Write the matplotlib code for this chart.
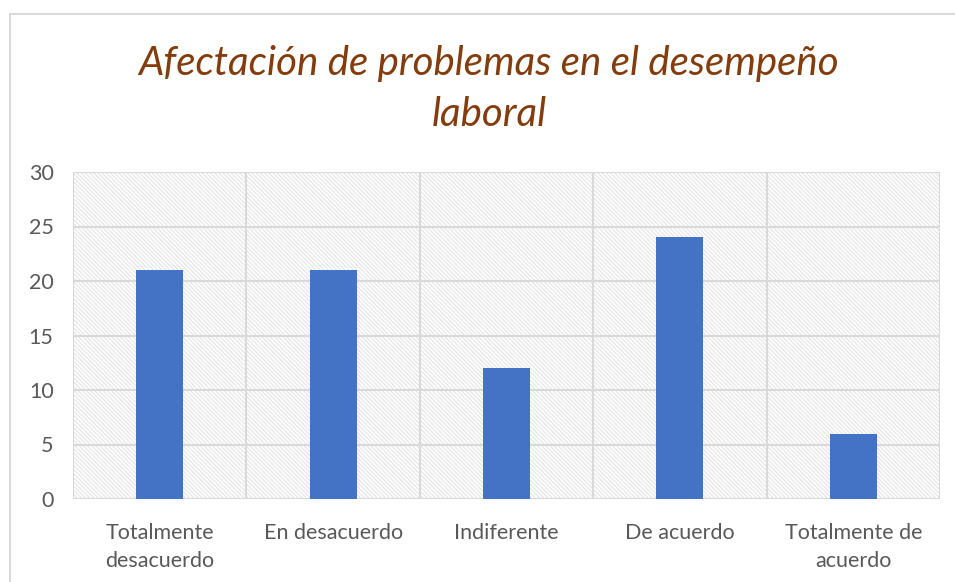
import matplotlib
matplotlib.use("Agg")
import matplotlib.pyplot as plt
from matplotlib.patches import Rectangle

categories = ["Totalmente\ndesacuerdo", "En desacuerdo", "Indiferente", "De acuerdo", "Totalmente de\nacuerdo"]
values = [21, 21, 12, 24, 6]
yticks = [0, 5, 10, 15, 20, 25, 30]
title = "Afectación de problemas en el desempeño\nlaboral"

plt.rcParams['font.family'] = ['Lato', 'DejaVu Sans']
plt.rcParams['hatch.linewidth'] = 0.7
plt.rcParams['hatch.color'] = '#e0e0e0'

fig = plt.figure(figsize=(9.55, 5.82), dpi=100)
# outer border
fig.patches.append(Rectangle((10/955, -0.1), 1.2, 1.1 - 14/582, transform=fig.transFigure,
                             fill=False, edgecolor='#d9d9d9', linewidth=1.5))
ax = fig.add_axes([73/955, 1 - 499/582, (940 - 73)/955, (499 - 172)/582])

n = len(categories)
ax.set_xlim(-0.5, n - 0.5)
ax.set_ylim(0, 30)
ax.add_patch(Rectangle((0, 0), 1, 1, transform=ax.transAxes, facecolor='white',
                       edgecolor='#e0e0e0', hatch='\\' * 8, linewidth=0, zorder=0))
for y in yticks:
    ax.axhline(y, color='#d9d9d9', linewidth=1.5, zorder=1)
for i in range(n + 1):
    ax.axvline(i - 0.5, color='#d9d9d9', linewidth=1.5, zorder=1)

ax.bar(range(n), values, width=0.27, color='#4472C4', zorder=3)

ax.set_yticks(yticks)
ax.set_xticks(range(n))
ax.set_xticklabels(categories, fontsize=15.5, color='#595959', linespacing=1.55)
ax.tick_params(axis='y', labelsize=15.5, labelcolor='#595959', length=0, pad=14)
ax.tick_params(axis='x', length=0, pad=17)
for s in ax.spines.values():
    s.set_visible(False)

fig.text(489/955, 1 - 89/582, title, ha='center', va='center', fontsize=29,
         style='italic', color='#843C0C', linespacing=1.5)

fig.savefig("out.png", dpi=100)
